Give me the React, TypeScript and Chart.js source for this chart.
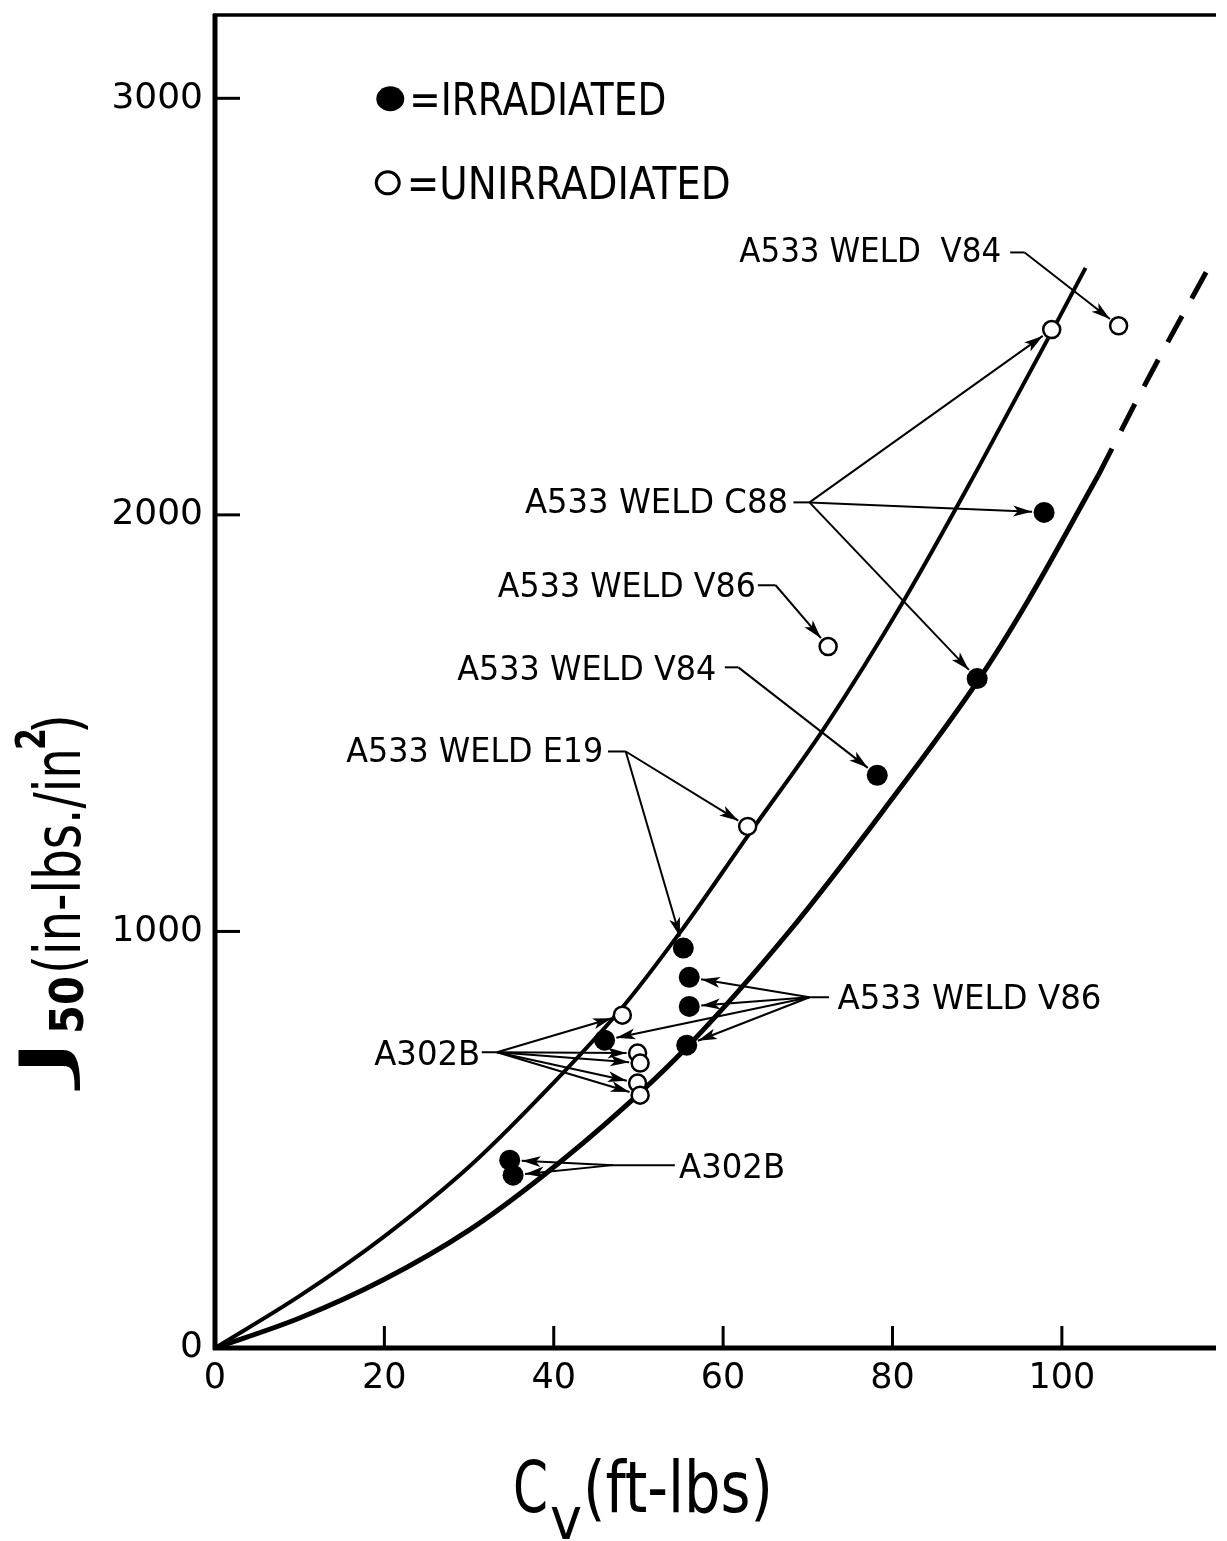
import React, { useEffect, useRef } from 'react';
import { Chart, registerables } from 'chart.js';

Chart.register(...registerables);

// ---- data ----
const irradiatedCv = [97.9, 90.0, 78.2, 55.3, 56.0, 56.0, 55.7, 46.0, 34.8, 35.2];
const irradiatedJ = [2006, 1607, 1375, 960, 890, 820, 727, 739, 451, 415];
const unirradiatedCv = [106.7, 98.8, 72.4, 62.9, 48.1, 49.9, 50.2, 49.9, 50.2];
const unirradiatedJ = [2454, 2445, 1684, 1252, 799, 708, 684, 636, 607];
const upperCurveCv = [0, 10, 20, 30, 38, 48, 55, 63, 72, 81.5, 90, 99, 102.8];
const upperCurveJ = [0, 125, 268, 435, 595, 815, 1000, 1232, 1490, 1800, 2108, 2447, 2593];
const lowerCurveCv = [0, 10, 20, 30, 38.7, 48, 56, 67.6, 78.9, 90.2, 96, 104.3];
const lowerCurveJ = [0, 72, 165, 283, 413, 572, 728, 995, 1290, 1605, 1794, 2095];
const lowerDashCv = [104.3, 110, 117.5];
const lowerDashJ = [2095, 2320, 2600];
const xTickValues = [0, 20, 40, 60, 80, 100];
const yTickValues = [0, 1000, 2000, 3000];

const legendItems = [
  { label: '=IRRADIATED', filled: true, cv: 20.7, j: 2999 },
  { label: '=UNIRRADIATED', filled: false, cv: 20.4, j: 2797 },
];

const noteLabels = [
  { text: 'A533 WELD  V84', cv: 61.9, j: 2637 },
  { text: 'A533 WELD C88', cv: 36.6, j: 2035 },
  { text: 'A533 WELD V86', cv: 33.4, j: 1833 },
  { text: 'A533 WELD V84', cv: 28.6, j: 1634 },
  { text: 'A533 WELD E19', cv: 15.5, j: 1437 },
  { text: 'A533 WELD V86', cv: 73.5, j: 845 },
  { text: 'A302B', cv: 18.8, j: 710 },
  { text: 'A302B', cv: 54.8, j: 437 },
];
const noteWidths = [262, 263, 258, 259, 257, 264, 106, 106];

// leader: short stub from label to fork, then arrows to indexed points
const leaders = [
  { stub: [[93.9, 2630], [95.6, 2630]], irr: [], unirr: [0] },
  { stub: [[68.3, 2030], [70.2, 2030]], irr: [0, 1], unirr: [1] },
  { stub: [[64.1, 1831], [66.2, 1831]], irr: [], unirr: [2] },
  { stub: [[60.2, 1634], [61.8, 1634]], irr: [2], unirr: [] },
  { stub: [[46.4, 1432], [48.5, 1432]], irr: [3], unirr: [3] },
  { stub: [[72.5, 842], [70.2, 842]], irr: [4, 5, 7, 6], unirr: [] },
  { stub: [[31.5, 710], [33.3, 710]], irr: [], unirr: [4, 5, 6, 7, 8] },
  { stub: [[54.3, 439], [47.0, 439]], irr: [8, 9], unirr: [] },
];

const FONT = "'DejaVu Sans', 'Liberation Sans', sans-serif";
const R_FILLED = 10.5;
const R_OPEN = 8.5;

function stretchText(ctx: CanvasRenderingContext2D, text: string, x: number, y: number, width: number) {
  const w = ctx.measureText(text).width;
  ctx.save();
  ctx.translate(x, y);
  ctx.scale(width / w, 1);
  ctx.fillText(text, 0, 0);
  ctx.restore();
}

function drawArrow(ctx: CanvasRenderingContext2D, fx: number, fy: number, tx: number, ty: number, r: number) {
  const dx = tx - fx, dy = ty - fy;
  const L = Math.hypot(dx, dy);
  const ux = dx / L, uy = dy / L;
  const ex = tx - ux * (r + 1.5), ey = ty - uy * (r + 1.5);
  ctx.beginPath();
  ctx.moveTo(fx, fy);
  ctx.lineTo(ex, ey);
  ctx.stroke();
  const hl = 19, hw = 5.5;
  const bx = ex - ux * hl, by = ey - uy * hl;
  const nx = ex - ux * hl * 0.75, ny = ey - uy * hl * 0.75;
  ctx.beginPath();
  ctx.moveTo(ex, ey);
  ctx.lineTo(bx - uy * hw, by + ux * hw);
  ctx.lineTo(nx, ny);
  ctx.lineTo(bx + uy * hw, by - ux * hw);
  ctx.closePath();
  ctx.fill();
}

const overlayPlugin = {
  id: 'overlay',
  afterDraw(chart: any) {
    const { ctx, chartArea } = chart;
    const xs = chart.scales.x;
    const ys = chart.scales.y;
    const px = (v: number) => xs.getPixelForValue(v);
    const py = (v: number) => ys.getPixelForValue(v);
    ctx.save();
    ctx.fillStyle = '#000';
    ctx.strokeStyle = '#000';
    ctx.lineCap = 'butt';

    // frame
    ctx.lineWidth = 5;
    ctx.beginPath();
    ctx.moveTo(chartArea.left, chartArea.top - 1);
    ctx.lineTo(chartArea.left, chartArea.bottom + 2);
    ctx.stroke();
    ctx.beginPath();
    ctx.moveTo(chartArea.left - 2, chartArea.bottom);
    ctx.lineTo(chartArea.right, chartArea.bottom);
    ctx.stroke();
    ctx.lineWidth = 3.5;
    ctx.beginPath();
    ctx.moveTo(chartArea.left - 2, chartArea.top);
    ctx.lineTo(chartArea.right, chartArea.top);
    ctx.stroke();

    // inward tick marks
    ctx.lineWidth = 3;
    xTickValues.filter((v) => v > 0).forEach((v) => {
      ctx.beginPath();
      ctx.moveTo(px(v), chartArea.bottom);
      ctx.lineTo(px(v), chartArea.bottom - 22);
      ctx.stroke();
    });
    yTickValues.filter((v) => v > 0).forEach((v) => {
      ctx.beginPath();
      ctx.moveTo(chartArea.left, py(v));
      ctx.lineTo(chartArea.left + 25, py(v));
      ctx.stroke();
    });

    // legend
    legendItems.forEach((it) => {
      const cx = px(it.cv), cy = py(it.j);
      ctx.beginPath();
      if (it.filled) {
        ctx.ellipse(cx, cy, 14, 12.5, 0, 0, Math.PI * 2);
        ctx.fill();
      } else {
        ctx.lineWidth = 3;
        ctx.ellipse(cx, cy, 11.5, 11, 0, 0, Math.PI * 2);
        ctx.stroke();
      }
      ctx.font = `44px ${FONT}`;
      ctx.textBaseline = 'alphabetic';
      ctx.textAlign = 'left';
      stretchText(ctx, it.label, cx + 19, cy + 16, it.filled ? 257 : 324);
    });

    // note labels
    ctx.font = `34px ${FONT}`;
    ctx.textBaseline = 'alphabetic';
    ctx.textAlign = 'left';
    noteLabels.forEach((n, i) => {
      stretchText(ctx, n.text, px(n.cv), py(n.j) + 12.5, noteWidths[i]);
    });

    // leaders and arrows
    ctx.lineWidth = 2;
    leaders.forEach((ld) => {
      const pts = ld.stub.map(([c, j]) => [px(c), py(j)]);
      ctx.beginPath();
      ctx.moveTo(pts[0][0], pts[0][1]);
      for (let k = 1; k < pts.length; k++) ctx.lineTo(pts[k][0], pts[k][1]);
      ctx.stroke();
      const [fx, fy] = pts[pts.length - 1];
      ld.irr.forEach((i) => drawArrow(ctx, fx, fy, px(irradiatedCv[i]), py(irradiatedJ[i]), R_FILLED));
      ld.unirr.forEach((i) => drawArrow(ctx, fx, fy, px(unirradiatedCv[i]), py(unirradiatedJ[i]), R_OPEN + 1));
    });

    // x axis title
    const L = chartArea.left, B = chartArea.bottom;
    ctx.font = `72px ${FONT}`;
    stretchText(ctx, 'C', L + 298, B + 164, 35);
    ctx.font = `58px ${FONT}`;
    stretchText(ctx, 'v', L + 335, B + 191, 32);
    ctx.font = `72px ${FONT}`;
    stretchText(ctx, '(ft-lbs)', L + 368, B + 164, 190);

    // y axis title (rotated, reading upward)
    ctx.save();
    ctx.rotate(-Math.PI / 2);
    // a, b: distance upward from plot bottom where the piece starts/ends; d: baseline distance left of plot
    const yPiece = (text: string, font: string, a: number, b: number, d: number) => {
      ctx.font = font;
      stretchText(ctx, text, -(B - a), L - d, b - a);
    };
    yPiece('J', `66px ${FONT}`, 266, 314, 148);
    yPiece('50', `bold 46px ${FONT}`, 314, 372, 132);
    yPiece('(in-lbs./in', `64px ${FONT}`, 374, 600, 135);
    yPiece('2', `bold 40px ${FONT}`, 598, 620, 170);
    yPiece(')', `64px ${FONT}`, 614, 634, 135);
    ctx.restore();

    ctx.restore();
  },
};

export default function App() {
  const canvasRef = useRef<HTMLCanvasElement | null>(null);

  useEffect(() => {
    document.body.style.margin = '0';
    const canvas = canvasRef.current;
    if (!canvas) return;
    const pts = (xs: number[], ys: number[]) => xs.map((x, i) => ({ x, y: ys[i] }));
    const chart = new Chart(canvas, {
      type: 'scatter',
      data: {
        datasets: [
          {
            label: 'Irradiated',
            data: pts(irradiatedCv, irradiatedJ),
            pointRadius: R_FILLED,
            pointBackgroundColor: '#000',
            pointBorderColor: '#000',
            pointBorderWidth: 0,
            showLine: false,
          },
          {
            label: 'Unirradiated',
            data: pts(unirradiatedCv, unirradiatedJ),
            pointRadius: R_OPEN,
            pointBackgroundColor: '#fff',
            pointBorderColor: '#000',
            pointBorderWidth: 2.5,
            showLine: false,
          },
          {
            label: 'Upper band',
            data: pts(upperCurveCv, upperCurveJ),
            showLine: true,
            pointRadius: 0,
            borderColor: '#000',
            borderWidth: 4,
            cubicInterpolationMode: 'monotone',
          },
          {
            label: 'Lower band',
            data: pts(lowerCurveCv, lowerCurveJ),
            showLine: true,
            pointRadius: 0,
            borderColor: '#000',
            borderWidth: 5,
            cubicInterpolationMode: 'monotone',
          },
          {
            label: 'Lower band (extrapolated)',
            data: pts(lowerDashCv, lowerDashJ),
            showLine: true,
            pointRadius: 0,
            borderColor: '#000',
            borderWidth: 5,
            borderDash: [30, 20],
            cubicInterpolationMode: 'monotone',
          },
        ],
      },
      options: {
        animation: false,
        responsive: false,
        devicePixelRatio: 1,
        events: [],
        layout: { padding: { top: 15, left: 0, right: 0, bottom: 0 } },
        plugins: { legend: { display: false }, tooltip: { enabled: false } },
        scales: {
          x: {
            type: 'linear',
            min: 0,
            max: 118.2,
            grid: { display: false, drawTicks: false },
            border: { display: false },
            ticks: {
              stepSize: 20,
              color: '#000',
              font: { family: FONT, size: 35 },
              padding: 10,
              callback: (v: any) => String(v),
            },
            afterBuildTicks: (s: any) => {
              s.ticks = xTickValues.map((v) => ({ value: v }));
            },
            afterFit: (s: any) => {
              s.height = 193;
              s.paddingLeft = 0;
              s.paddingRight = 0;
            },
          },
          y: {
            type: 'linear',
            min: 0,
            max: 3200,
            grid: { display: false, drawTicks: false },
            border: { display: false },
            ticks: {
              stepSize: 1000,
              color: '#000',
              font: { family: FONT, size: 36 },
              padding: 12,
              callback: (v: any) => String(v),
            },
            afterBuildTicks: (s: any) => {
              s.ticks = yTickValues.map((v) => ({ value: v }));
            },
            afterFit: (s: any) => {
              s.width = 215;
              s.paddingTop = 0;
              s.paddingBottom = 0;
            },
          },
        },
      },
      plugins: [overlayPlugin],
    } as any);
    return () => chart.destroy();
  }, []);

  return (
    <div style={{ width: 1227, height: 1541, background: '#fff' }}>
      <canvas ref={canvasRef} width={1227} height={1541} style={{ display: 'block' }} />
    </div>
  );
}
